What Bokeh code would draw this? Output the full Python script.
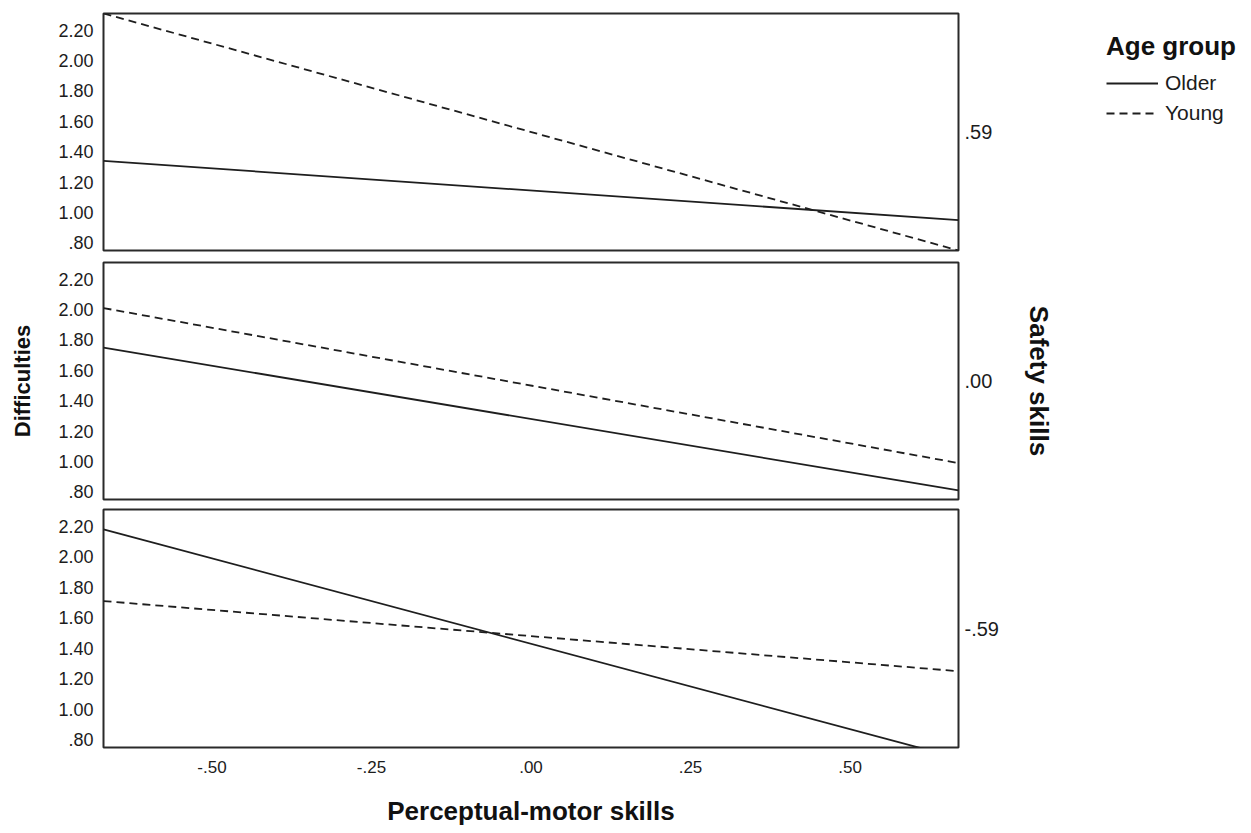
from bokeh.plotting import figure
from bokeh.models import (Range1d, FixedTicker, CustomJSTickFormatter, LinearAxis,
                          Legend, LegendItem)
from bokeh.layouts import column, row
from bokeh.embed import file_html
from bokeh.resources import INLINE

# ---- data ----
x_ends = [-0.67, 0.67]                 # perceptual-motor skills (centred)
safety_levels = [".59", ".00", "-.59"]  # moderator levels (Safety skills)
older_hi = [1.34, 0.95]
young_hi = [2.31, 0.75]
older_mid = [1.75, 0.81]
young_mid = [2.01, 0.99]
older_lo = [2.18, 0.68]
young_lo = [1.71, 1.25]
groups = ["Older", "Young"]
y_ticks = [0.8, 1.0, 1.2, 1.4, 1.6, 1.8, 2.0, 2.2]
x_ticks = [-0.5, -0.25, 0.0, 0.25, 0.5]
y_lo, y_hi = 0.75, 2.31

older_series = [older_hi, older_mid, older_lo]
young_series = [young_hi, young_mid, young_lo]

FONT = "Liberation Sans"
INK = "#1c1c1c"
LINE = "#1e1e1e"
DASH = "8 5"
LW = 1.8

fmt_code = """
const a = Math.abs(tick).toFixed(2);
const s = a.startsWith("0") ? a.slice(1) : a;
return (tick < -1e-9 ? "-" : "") + s;
"""

xr = Range1d(x_ends[0], x_ends[1])

borders = [(13, 6, 237), (6, 5, 237), (5, 78, 238)]


def no_ticks(ax):
    ax.major_tick_in = 0
    ax.major_tick_out = 0
    ax.minor_tick_in = 0
    ax.minor_tick_out = 0
    ax.axis_line_color = None


panels = []
for i in range(3):
    top, bottom, fh = borders[i]
    last = (i == 2)
    p = figure(frame_width=855, frame_height=fh, x_range=xr,
               y_range=Range1d(y_lo, y_hi), output_backend="svg",
               toolbar_location=None,
               x_axis_location="below" if last else None,
               min_border_left=103, min_border_right=100,
               min_border_top=top, min_border_bottom=bottom)
    p.background_fill_color = "white"
    p.border_fill_color = "white"
    p.outline_line_color = "#2a2a2a"
    p.outline_line_width = 2
    p.grid.visible = False

    # left axis
    ya = p.yaxis[0]
    ya.ticker = FixedTicker(ticks=y_ticks)
    ya.formatter = CustomJSTickFormatter(code=fmt_code)
    no_ticks(ya)
    ya.major_label_standoff = 10
    ya.major_label_text_font = FONT
    ya.major_label_text_font_size = "18px"
    ya.major_label_text_color = INK
    if i == 1:
        ya.axis_label = "Difficulties"
        ya.axis_label_text_font = FONT
        ya.axis_label_text_font_style = "bold"
        ya.axis_label_text_font_size = "22px"
        ya.axis_label_text_color = "#111111"
        ya.axis_label_standoff = 20

    # bottom axis
    if last:
        xa = p.xaxis[0]
        xa.ticker = FixedTicker(ticks=x_ticks)
        xa.formatter = CustomJSTickFormatter(code=fmt_code)
        no_ticks(xa)
        xa.major_label_standoff = 13
        xa.major_label_text_font = FONT
        xa.major_label_text_font_size = "17px"
        xa.major_label_text_color = INK
        xa.axis_label = "Perceptual-motor skills"
        xa.axis_label_text_font = FONT
        xa.axis_label_text_font_style = "bold"
        xa.axis_label_text_font_size = "26px"
        xa.axis_label_text_color = "#111111"
        xa.axis_label_standoff = 20

    # right axis carrying the moderator level
    ra = LinearAxis(ticker=FixedTicker(ticks=[(y_lo + y_hi) / 2]),
                    formatter=CustomJSTickFormatter(args=dict(lab=safety_levels[i]),
                                                    code="return lab;"))
    no_ticks(ra)
    ra.major_label_standoff = 6
    ra.major_label_text_font = FONT
    ra.major_label_text_font_size = "20px"
    ra.major_label_text_color = INK
    if i == 1:
        ra.axis_label = "Safety skills"
        ra.axis_label_text_font = FONT
        ra.axis_label_text_font_style = "bold"
        ra.axis_label_text_font_size = "26px"
        ra.axis_label_text_color = "#111111"
        ra.axis_label_standoff = 29
    p.add_layout(ra, "right")

    p.line(x_ends, older_series[i], line_color=LINE, line_width=LW)
    p.line(x_ends, young_series[i], line_color=LINE, line_width=LW, line_dash=DASH)

    panels.append(p)

# ---- legend panel (proxy renderers lie outside this panel's view) ----
lf = figure(frame_width=180, frame_height=140, output_backend="svg",
            toolbar_location=None, x_axis_location=None, y_axis_location=None,
            x_range=Range1d(10, 11), y_range=Range1d(10, 11), min_border=0)
lf.outline_line_color = None
lf.grid.visible = False
lf.background_fill_color = "white"
lf.border_fill_color = "white"
r_old = lf.line(x_ends, older_hi, line_color=LINE, line_width=LW)
r_young = lf.line(x_ends, young_hi, line_color=LINE, line_width=LW, line_dash=DASH)
leg = Legend(items=[LegendItem(label=groups[0], renderers=[r_old]),
                    LegendItem(label=groups[1], renderers=[r_young])],
             location=(48, 12))
leg.title = "Age group"
leg.title_text_font = FONT
leg.title_text_font_style = "bold"
leg.title_text_font_size = "26px"
leg.title_text_color = "#111111"
leg.title_standoff = 6
leg.label_text_font = FONT
leg.label_text_font_size = "21px"
leg.label_text_color = INK
leg.glyph_width = 52
leg.glyph_height = 30
leg.label_height = 30
leg.label_standoff = 7
leg.spacing = 0
leg.padding = 0
leg.margin = 0
leg.border_line_alpha = 0
leg.background_fill_alpha = 0
lf.add_layout(leg)

layout = row(column(*panels, spacing=0), lf, spacing=0)
open("out.html", "w").write(file_html(layout, INLINE))
